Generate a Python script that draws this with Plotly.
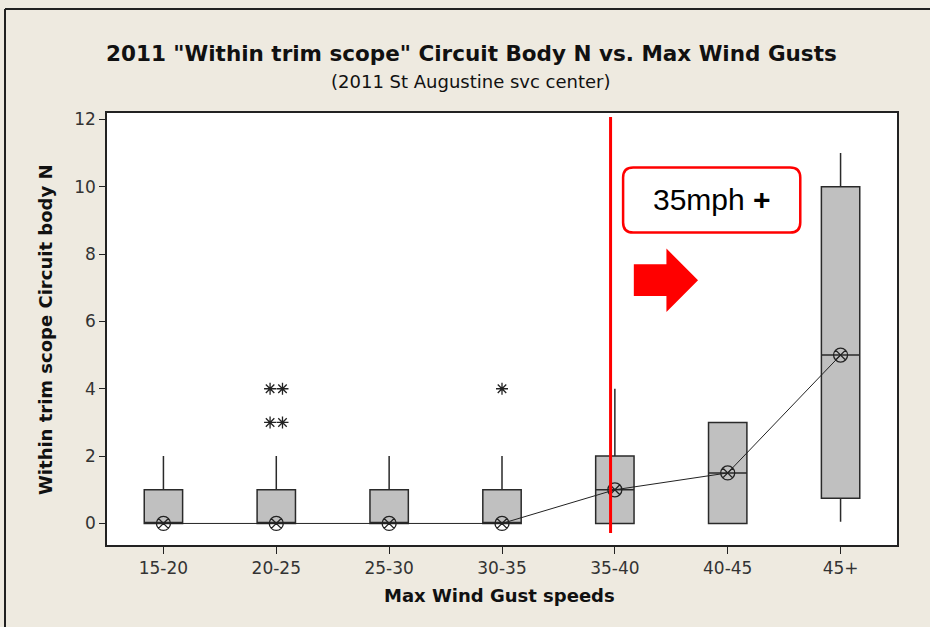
import plotly.graph_objects as go

categories = ["15-20", "20-25", "25-30", "30-35", "35-40", "40-45", "45+"]
q1 = [0, 0, 0, 0, 0, 0, 0.75]
median = [0, 0, 0, 0, 1, 1.5, 5]
q3 = [1, 1, 1, 1, 2, 3, 10]
lower_whisker = [0, 0, 0, 0, 0, 0, 0.05]
upper_whisker = [2, 2, 2, 2, 4, 3, 11]
connect_values = [0, 0, 0, 0, 1, 1.5, 5]

# outliers: (category index, value, side slot)
outlier_cat = [1, 1, 1, 1, 3]
outlier_val = [4, 4, 3, 3, 4]
outlier_slot = [-1, 1, -1, 1, 0]

y_ticks = [0, 2, 4, 6, 8, 10, 12]

BG = "#EEEAE0"
FONT = "DejaVu Sans"

xs = list(range(len(categories)))

fig = go.Figure()

fig.add_trace(go.Box(
    x=xs, q1=q1, median=median, q3=q3,
    lowerfence=lower_whisker, upperfence=upper_whisker,
    width=0.34, fillcolor="#C0C0C0",
    line=dict(color="#2a2a2a", width=1.5),
    whiskerwidth=0, boxpoints=False, showlegend=False, hoverinfo="skip",
))

fig.add_trace(go.Scatter(
    x=xs, y=connect_values, mode="lines+markers",
    line=dict(color="#222222", width=1),
    marker=dict(symbol="circle-x-open", size=14, color="#222222", line=dict(width=1.3)),
    showlegend=False, hoverinfo="skip",
))

fig.add_trace(go.Scatter(
    x=[c + 0.055 * s for c, s in zip(outlier_cat, outlier_slot)],
    y=outlier_val, mode="markers",
    marker=dict(symbol="asterisk-open", size=10, color="#222222", line=dict(width=1.3, color="#222222")),
    showlegend=False, hoverinfo="skip",
))

# plot area geometry in pixels (for paper-coordinate decorations)
L, R, T, B = 107, 897, 113, 545
W, H = R - L, B - T
def px(x):
    return (x - L) / W
def py(y):
    return (B - y) / H

shapes = []
# red vertical divider
shapes.append(dict(type="line", xref="x", yref="y", x0=3.962, x1=3.962, y0=-0.28, y1=12.07,
                   line=dict(color="#FF0000", width=3)))
# rounded red label box
x0, x1, y0, y1, r = 4.073, 5.643, 8.64, 10.574, 0.09
ry = 0.30
path = (f"M {x0+r},{y1} L {x1-r},{y1} Q {x1},{y1} {x1},{y1-ry} "
        f"L {x1},{y0+ry} Q {x1},{y0} {x1-r},{y0} L {x0+r},{y0} Q {x0},{y0} {x0},{y0+ry} "
        f"L {x0},{y1-ry} Q {x0},{y1} {x0+r},{y1} Z")
shapes.append(dict(type="path", xref="x", yref="y", path=path,
                   line=dict(color="#FF0000", width=2.5), fillcolor="white"))
# red arrow
arrow = ("M 4.168,7.696 L 4.457,7.696 L 4.457,8.164 L 4.737,7.22 "
         "L 4.457,6.277 L 4.457,6.753 L 4.168,6.753 Z")
shapes.append(dict(type="path", xref="x", yref="y", path=arrow,
                   line=dict(color="#FF0000", width=0), fillcolor="#FF0000"))
# figure frame (top and left)
shapes.append(dict(type="line", xref="paper", yref="paper", x0=px(5), x1=px(930), y0=py(9), y1=py(9),
                   line=dict(color="#202020", width=2)))
shapes.append(dict(type="line", xref="paper", yref="paper", x0=px(5), x1=px(5), y0=py(9), y1=py(627),
                   line=dict(color="#202020", width=2)))

annotations = [
    dict(text='<b>2011 "Within trim scope" Circuit Body N vs. Max Wind Gusts</b>', xref="paper", yref="paper",
         x=px(471), y=py(53), showarrow=False, xanchor="center", yanchor="middle",
         font=dict(family=FONT, size=21.5, color="#111111")),
    dict(text="(2011 St Augustine svc center)", xref="paper", yref="paper",
         x=px(471), y=py(82), showarrow=False, xanchor="center", yanchor="middle",
         font=dict(family=FONT, size=18, color="#111111")),
    dict(text="<b>Within trim scope Circuit body N</b>", xref="paper", yref="paper",
         x=px(45), y=py(330), showarrow=False, textangle=-90, xanchor="center", yanchor="middle",
         font=dict(family=FONT, size=18, color="#111111")),
    dict(text="<b>Max Wind Gust speeds</b>", xref="paper", yref="paper",
         x=px(499), y=py(595), showarrow=False, xanchor="center", yanchor="middle",
         font=dict(family=FONT, size=18, color="#111111")),
    dict(text="35mph <b>+</b>", xref="x", yref="y", x=(4.073 + 5.643) / 2, y=(8.64 + 10.574) / 2,
         showarrow=False, xanchor="center", yanchor="middle",
         font=dict(family="Liberation Sans", size=30, color="#000000")),
]

fig.update_layout(
    width=930, height=627,
    margin=dict(l=L, r=930 - R, t=T, b=627 - B),
    paper_bgcolor=BG, plot_bgcolor="white",
    shapes=shapes, annotations=annotations,
    showlegend=False,
    xaxis=dict(range=[-0.5, 6.5], tickmode="array", tickvals=xs, ticktext=categories,
               showgrid=False, zeroline=False, showline=True, mirror=True,
               linecolor="#222222", linewidth=1.5, ticks="outside", ticklen=7,
               tickcolor="#222222", tickfont=dict(family=FONT, size=17, color="#333333")),
    yaxis=dict(range=[-0.64, 12.19], tickmode="array", tickvals=y_ticks,
               showgrid=False, zeroline=False, showline=True, mirror=True,
               linecolor="#222222", linewidth=1.5, ticks="outside", ticklen=6,
               tickcolor="#222222", tickfont=dict(family=FONT, size=17, color="#333333")),
)

fig.write_html("out.html", config={"displayModeBar": False},
               post_script="document.body.style.margin='0';document.body.style.background='" + BG + "';")
